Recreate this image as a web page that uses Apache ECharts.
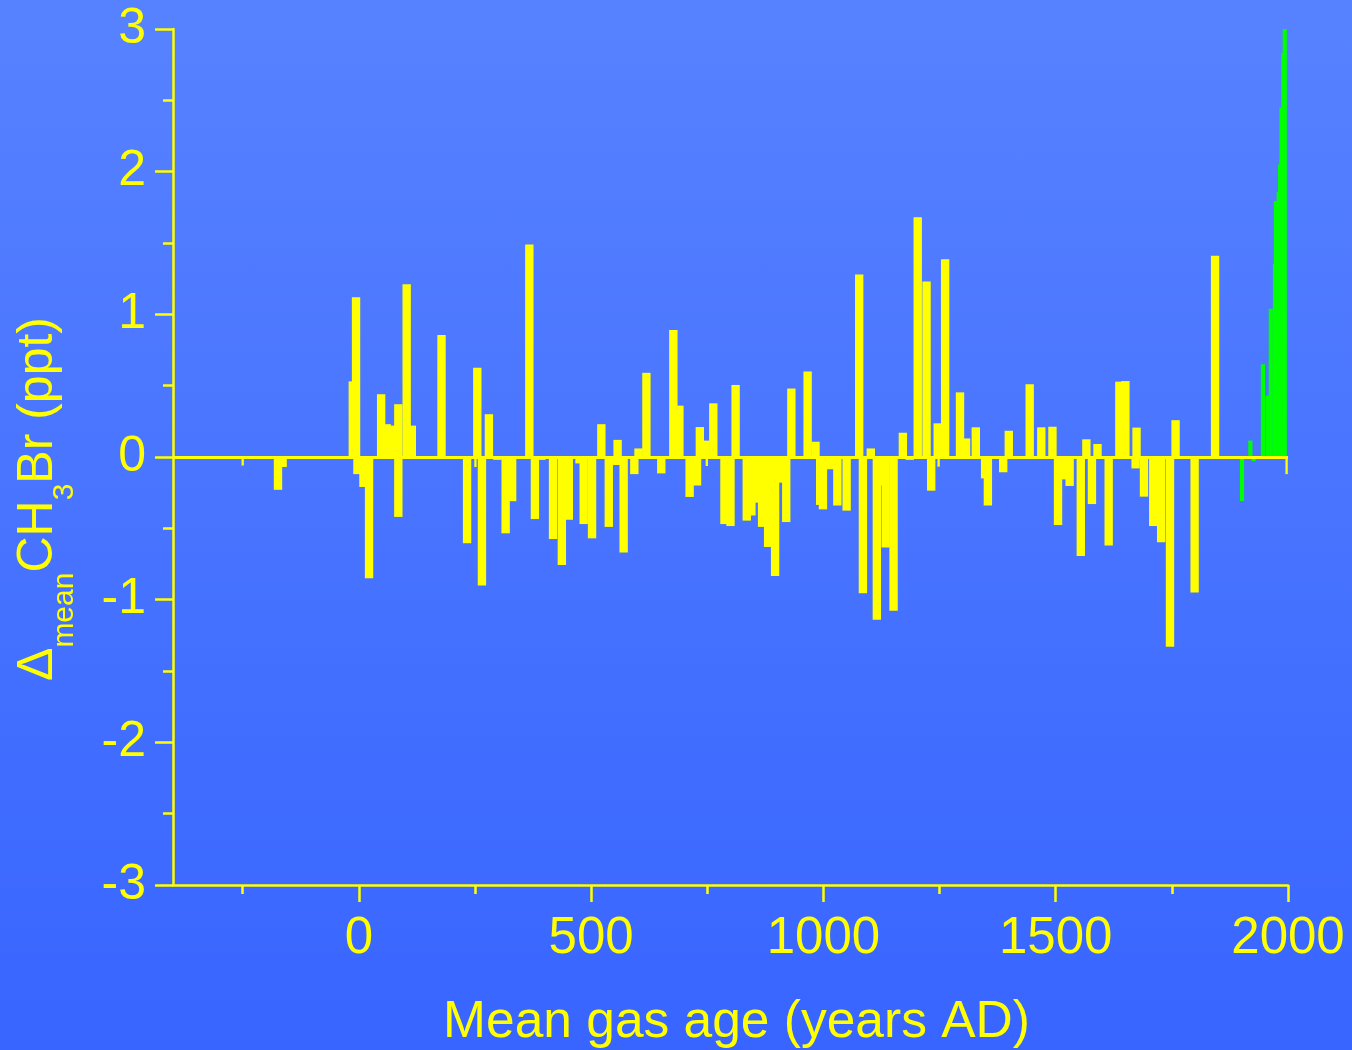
<!DOCTYPE html>
<html><head><meta charset="utf-8">
<script src="https://cdn.jsdelivr.net/npm/echarts@6/dist/echarts.min.js"></script>
<style>html,body{margin:0;padding:0;}#c{width:1352px;height:1050px;background:linear-gradient(to bottom,#5782ff,#3865ff);}</style>
</head><body><div id="c"></div>
<script>
// ---- data (years AD, values in ppt) ----
const yellowYears = [-174,-164,-13,-6,-3,10,22,48,60,70,85,85,103,114,178,233,255,265,280,298,316,330,367,379,393,418,437,452,475,484,502,522,538,557,555,570,593,602,619,651,677,690,712,728,734,746,763,787,800,811,835,845,851,868,881,896,904,920,931,966,983,993,999,1014,1030,1050,1077,1085,1102,1115,1121,1126,1134,1151,1171,1186,1203,1222,1232,1246,1262,1294,1307,1328,1348,1354,1387,1399,1444,1469,1493,1505,1514,1530,1554,1566,1578,1590,1614,1637,1650,1674,1672,1690,1710,1727,1746,1758,1799,1843];
const yellowValues = [-0.23,-0.07,0.53,1.12,-0.12,-0.21,-0.85,0.44,0.23,0.22,0.37,-0.42,1.21,0.22,0.855,-0.605,0.626,-0.90,0.30,-0.02,-0.535,-0.31,1.49,-0.435,-0.02,-0.575,-0.757,-0.44,-0.045,-0.47,-0.57,0.23,-0.49,0.12,-0.056,-0.67,-0.12,0.06,0.59,-0.115,0.89,0.36,-0.28,-0.20,0.21,0.115,0.376,-0.47,-0.484,0.505,-0.446,-0.41,-0.32,-0.49,-0.63,-0.834,-0.18,-0.456,0.48,0.60,0.107,-0.336,-0.367,-0.086,-0.34,-0.376,1.28,-0.955,0.06,-1.14,-0.20,-0.16,-0.635,-1.077,0.17,-0.02,1.68,1.23,-0.236,0.236,1.386,0.453,0.13,0.208,-0.15,-0.34,-0.107,0.184,0.51,0.208,0.212,-0.477,-0.157,-0.203,-0.694,0.124,-0.33,0.091,-0.62,0.528,0.532,0.206,-0.08,-0.278,-0.484,-0.598,-1.33,0.258,-0.95,1.41];
const thinYears = [-250,251,749,1248,1997];
const thinValues = [-0.06,-0.07,-0.063,-0.068,-0.12];
const greenYears = [1901,1919,1926,1946,1956,1963,1972,1974,1980,1983,1986,1990,1993];
const greenValues = [-0.31,0.115,-0.03,0.65,0.43,1.04,1.354,1.795,1.86,2.05,2.45,2.83,3.0];
const xLabelValues = [0,500,1000,1500,2000];
const xMinorTickValues = [-250,250,750,1250,1750];

const YEL = '#ffff00', GRN = '#00ff00';
const FONT = '"Liberation Sans", Arial, Helvetica, sans-serif';
function zip(a,b){return a.map((v,i)=>[v,b[i]]);}
function barRenderer(widthYears,color){
  return function(params, api){
    const x = api.value(0), v = api.value(1);
    const p0 = api.coord([x - widthYears/2, 0]);
    const p1 = api.coord([x + widthYears/2, v]);
    return {type:'rect', shape:{x:p0[0], y:Math.min(p0[1],p1[1]), width:p1[0]-p0[0], height:Math.abs(p1[1]-p0[1])}, style:{fill:color}};
  };
}
const chart = echarts.init(document.getElementById('c'), null, {renderer:'canvas'});
chart.setOption({
  backgroundColor:'transparent',
  animation:false,
  textStyle:{fontFamily:FONT},
  grid:{left:173,right:64,top:29,bottom:165,containLabel:false,outerBoundsMode:'none'},
  xAxis:[{
    type:'value', min:-400, max:2000, position:'bottom',
    axisLine:{onZero:false, lineStyle:{color:YEL,width:2.5}},
    axisTick:{customValues:xLabelValues, length:17, lineStyle:{color:YEL,width:2.5}},
    axisLabel:{customValues:xLabelValues, color:YEL, fontSize:51, fontFamily:FONT, margin:28,
               formatter:function(v){return String(v);}},
    splitLine:{show:false},
    name:'Mean gas age (years AD)', nameLocation:'middle', nameGap:112,
    nameTextStyle:{color:YEL, fontSize:51.5, fontFamily:FONT, padding:[0,0,0,12]}
  },{
    type:'value', min:-400, max:2000, position:'bottom',
    axisLine:{show:false, onZero:false},
    axisTick:{customValues:xMinorTickValues, length:9, lineStyle:{color:YEL,width:2.5}},
    axisLabel:{show:false}, splitLine:{show:false}
  }],
  yAxis:{
    type:'value', min:-3, max:3, interval:1,
    axisLine:{show:true, onZero:false, lineStyle:{color:YEL,width:2.5}},
    axisTick:{show:true, length:18, lineStyle:{color:YEL,width:2.5}},
    minorTick:{show:true, splitNumber:2, length:10, lineStyle:{color:YEL,width:2.5}},
    axisLabel:{color:YEL, fontSize:50, fontFamily:FONT, margin:27},
    splitLine:{show:false},
    name:'{m|Δ}{s|mean}{m|CH}{s|3}{m|Br (ppt)}', nameLocation:'middle', nameGap:93,
    nameTextStyle:{
      color:YEL, padding:[0,84,0,0],
      rich:{
        m:{fontSize:50, lineHeight:84, color:YEL, fontFamily:FONT, verticalAlign:'middle'},
        s:{fontSize:30, lineHeight:30, color:YEL, fontFamily:FONT, verticalAlign:'bottom'}
      }
    }
  },
  series:[
    {type:'custom', name:'yellow', renderItem:barRenderer(18,YEL), data:zip(yellowYears,yellowValues),
     markLine:{silent:true, symbol:'none', label:{show:false}, lineStyle:{color:YEL,width:3,type:'solid'}, data:[{yAxis:0}]}},
    {type:'custom', name:'thin', renderItem:barRenderer(5,YEL), data:zip(thinYears,thinValues)},
    {type:'custom', name:'green', renderItem:barRenderer(9,GRN), data:zip(greenYears,greenValues)}
  ]
});
</script></body></html>
